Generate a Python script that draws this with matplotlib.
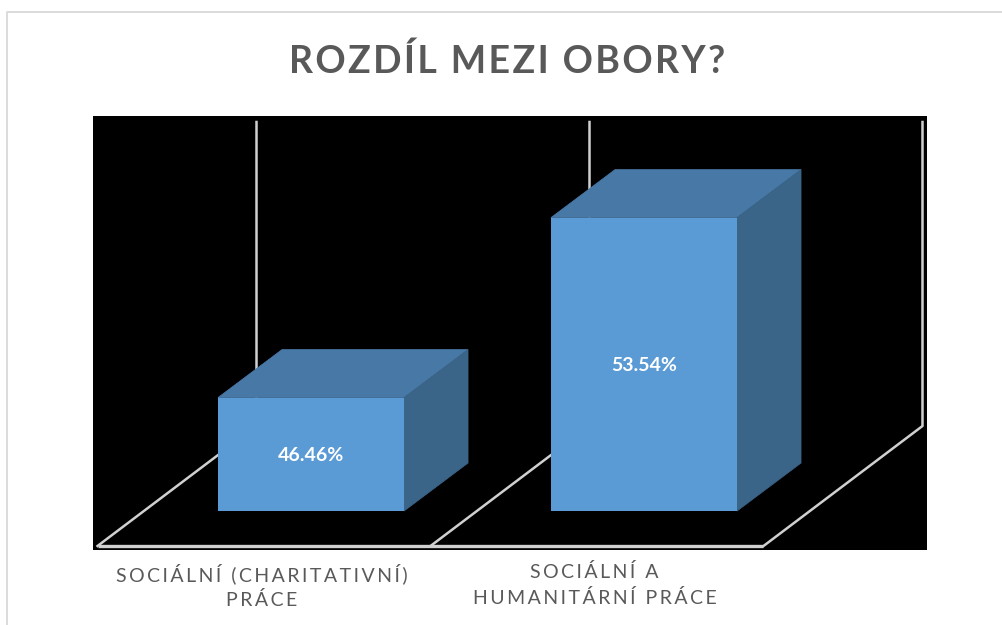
import matplotlib
matplotlib.use("Agg")
import matplotlib.pyplot as plt
from matplotlib.lines import Line2D
from matplotlib.patches import Polygon

plt.rcParams['font.family'] = ['Lato', 'DejaVu Sans']

#Data
categories = ["SOCIÁLNÍ (CHARITATIVNÍ)\nPRÁCE", "SOCIÁLNÍ A\nHUMANITÁRNÍ PRÁCE"]
values = [46.46, 53.54]
title = "ROZDÍL MEZI OBORY?"

#Scale of the truncated value axis
axis_min = 42
px_per_unit_x = 333
px_per_unit_y = 25.42

#Depth of bar and floor, in pixels
bar_width = 186 / px_per_unit_x
bar_dx = 64 / px_per_unit_x
bar_dy = 48 / px_per_unit_y
front_dx = 47 / px_per_unit_x
front_dy = 35 / px_per_unit_y
floor_dx = 159 / px_per_unit_x
floor_dy = 120 / px_per_unit_y
label_shift = 2.5 / px_per_unit_x

W, H = 1002, 625


def spaced(text, gap="\u200a"):
    #letter spacing, matplotlib has no option for it
    return "\n".join(gap.join(line) for line in text.split("\n"))


fig = plt.figure(figsize=(W / 100, H / 100), dpi=100, facecolor="white")

#Outer frame, only top and left are in the picture
fig.add_artist(Line2D([6.5 / W, 6.5 / W, 1], [0, 1 - 11.5 / H, 1 - 11.5 / H],
                      color="#D9D9D9", lw=1.3, transform=fig.transFigure))

ax = fig.add_axes([93 / W, (H - 550) / H, 834 / W, 434 / H], facecolor="black")
ax.set_xlim(-218 / px_per_unit_x, 616 / px_per_unit_x)
ax.set_ylim(axis_min - 39 / px_per_unit_y, axis_min + 395 / px_per_unit_y)
for side in ax.spines.values():
    side.set_visible(False)

#Floor and back wall lines
grid_color = "#D0D0D0"
floor_y = axis_min - front_dy
top_y = axis_min + 389 / px_per_unit_y
n = len(categories)
edges = [i - 0.5 - front_dx for i in range(n + 1)]
ax.plot([edges[0], edges[-1]], [floor_y, floor_y], color=grid_color, lw=2.4, solid_capstyle="butt", zorder=1)
for x in edges:
    ax.plot([x, x + floor_dx, x + floor_dx], [floor_y, floor_y + floor_dy, top_y],
            color=grid_color, lw=1.8, zorder=1)

#Bars
bars = ax.bar(range(n), [v - axis_min for v in values], width=bar_width, bottom=axis_min,
              color="#5B9BD5", linewidth=0, zorder=4)
for bar, value in zip(bars, values):
    x0 = bar.get_x()
    x1 = x0 + bar.get_width()
    ax.add_patch(Polygon([(x0, value), (x1, value), (x1 + bar_dx, value + bar_dy), (x0 + bar_dx, value + bar_dy)],
                         closed=True, facecolor="#4878A6", edgecolor="#4878A6", lw=0.6, zorder=3))
    ax.add_patch(Polygon([(x1, axis_min), (x1 + bar_dx, axis_min + bar_dy), (x1 + bar_dx, value + bar_dy), (x1, value)],
                         closed=True, facecolor="#3A6488", edgecolor="#3A6488", lw=0.6, zorder=3))
    ax.text(x0 + bar.get_width() / 2, (axis_min + value) / 2, f"{value:.2f}%", color="white",
            fontsize=14, fontweight="bold", ha="center", va="center_baseline", zorder=5)

ax.set_yticks([])
ax.set_xticks([i - front_dx - label_shift for i in range(n)])
ax.set_xticklabels([spaced(c, "\u2009") for c in categories], fontsize=14, color="#595959", linespacing=1.5)
ax.tick_params(axis="x", length=0, pad=9.4)

fig.text(507.5 / W, 1 - 61 / H, spaced(title), fontsize=27, fontweight="bold", color="#595959",
         ha="center", va="center")

fig.savefig("out.png", dpi=100)
